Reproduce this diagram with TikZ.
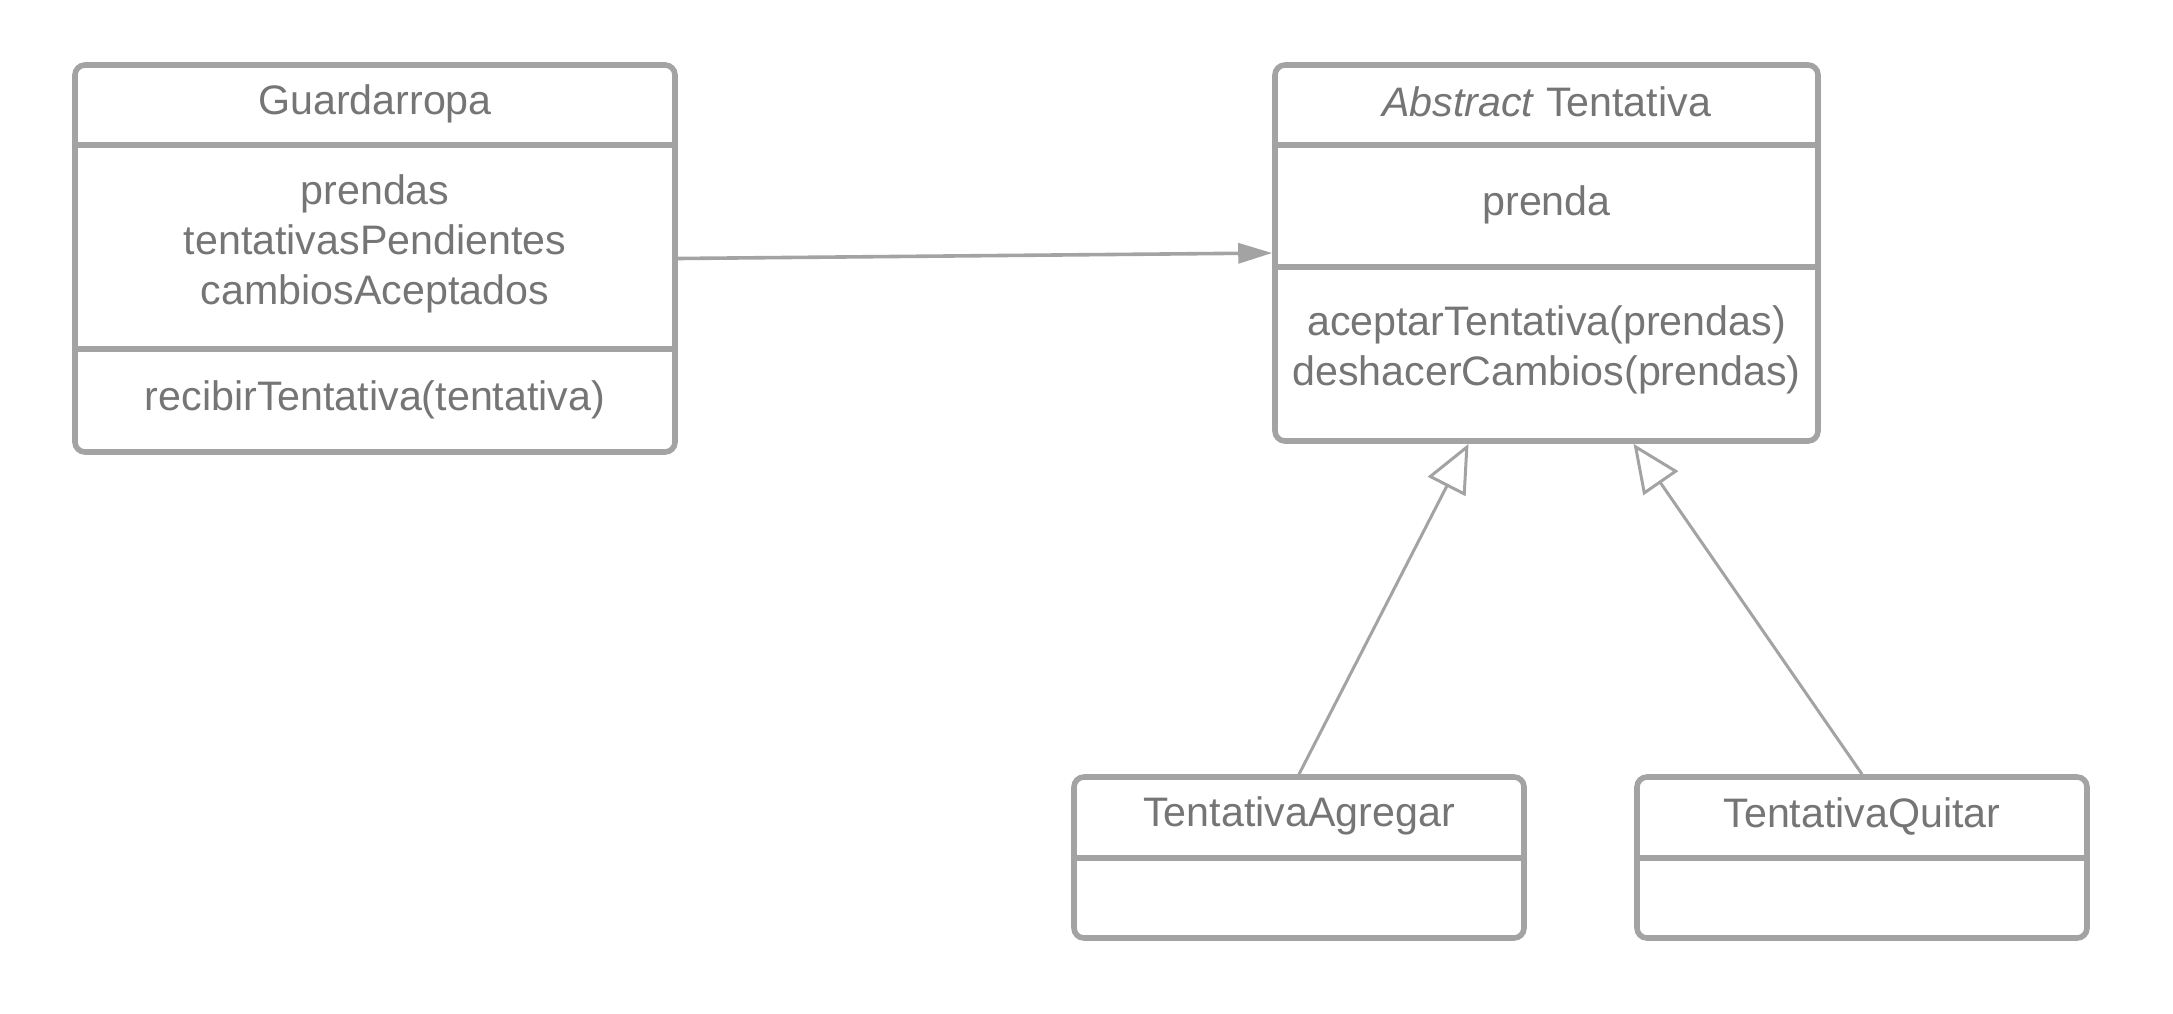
\documentclass[tikz,border=0pt]{standalone}
\usepackage{fontspec}
\setmainfont{Liberation Sans}
\usetikzlibrary{arrows.meta}
\definecolor{umlline}{RGB}{163,163,163}
\definecolor{umltext}{RGB}{117,117,117}

\begin{document}
\begin{tikzpicture}[x=0.5pt, y=-0.5pt,
    classbox/.style={draw=umlline, line width=2.8pt, rounded corners=5pt, inner sep=0pt},
    divider/.style={draw=umlline, line width=2.8pt},
    umltxt/.style={text=umltext, align=center, inner sep=0pt, font=\fontsize{20.6}{25}\selectfont},
    assoc/.style={draw=umlline, line width=1.8pt, -{Triangle[length=17pt, width=10pt]}},
    inherit/.style={draw=umlline, line width=1.5pt, -{Triangle[open, length=24pt, width=21pt]}}]
    \useasboundingbox (0, 0) rectangle (2173, 1013);

    % Guardarropa
    \node[classbox, minimum width=300pt, minimum height=193.5pt] (guard) at (375, 258.5) {};
    \draw[divider] (guard.north west) ++(0, 83) -- ++(600, 0);
    \draw[divider] (guard.north west) ++(0, 287) -- ++(600, 0);
    \node[umltxt] (guardname) at (375, 104) {Guardarropa};
    \node[umltxt] (guardattr) at (375, 244) {prendas\\tentativasPendientes\\cambiosAceptados};
    \node[umltxt] (guardmeth) at (375, 400) {recibirTentativa(tentativa)};

    % Tentativa
    \node[classbox, minimum width=271.5pt, minimum height=188pt] (tent) at (1546.5, 253) {};
    \draw[divider] (tent.north west) ++(0, 83) -- ++(543, 0);
    \draw[divider] (tent.north west) ++(0, 205) -- ++(543, 0);
    \node[umltxt] (tentname) at (1546.5, 102) {\textit{Abstract} Tentativa};
    \node[umltxt] (tentattr) at (1546.5, 205) {prenda};
    \node[umltxt] (tentmeth) at (1546.5, 350) {aceptarTentativa(prendas)\\deshacerCambios(prendas)};

    % subclases
    \node[classbox, minimum width=225pt, minimum height=80.5pt] (agregar) at (1299, 857.5) {};
    \draw[divider] (agregar.north west) ++(0, 84) -- ++(450, 0);
    \node[umltxt] (agregarname) at (1299, 816) {TentativaAgregar};

    \node[classbox, minimum width=225pt, minimum height=80.5pt] (quitar) at (1862, 857.5) {};
    \draw[divider] (quitar.north west) ++(0, 84) -- ++(450, 0);
    \node[umltxt] (quitarname) at (1862, 816) {TentativaQuitar};

    % relaciones
    \path (tent.south) ++(-78, 0) coordinate (inhagregar);
    \path (tent.south) ++(87, 0) coordinate (inhquitar);
    \draw[assoc] (guard.east) -- (tent.west);
    \draw[inherit] (agregar.north) -- (inhagregar);
    \draw[inherit] (quitar.north) -- (inhquitar);
\end{tikzpicture}
\end{document}
